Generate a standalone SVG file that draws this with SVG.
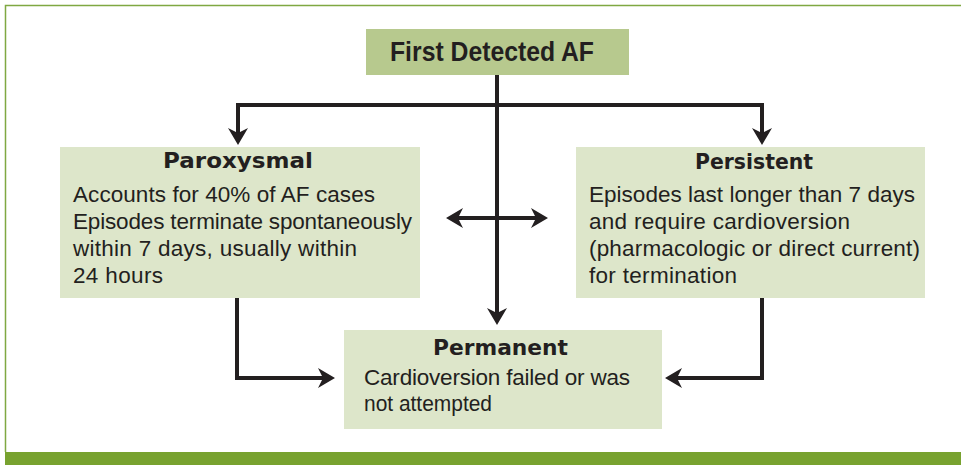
<svg xmlns="http://www.w3.org/2000/svg" width="961" height="465" viewBox="0 0 961 465">
<style>
.frame{fill:none;stroke:#7fa842;stroke-width:1.5}
.bar{fill:#78a22f}
.head{fill:#b7c98e}
.box{fill:#dde6ca}
.t{font-family:"Liberation Sans",Arial,sans-serif;font-size:22.5px;fill:#231f20}
.h{font-family:"DejaVu Sans","Liberation Sans",sans-serif;font-weight:bold;font-size:21px;fill:#231f20;text-anchor:middle}
.top{font-family:"Liberation Sans",Arial,sans-serif;font-weight:bold;font-size:27px;fill:#231f20}
.c{fill:none;stroke:#231f20;stroke-width:4}
</style>
<defs>
<marker id="ah" markerUnits="userSpaceOnUse" viewBox="-18 -11 19 22" markerWidth="19" markerHeight="22" refX="-12" refY="0" orient="auto-start-reverse">
<path d="M0,0 L-17,-10 L-12,0 L-17,10 Z" fill="#231f20"/>
</marker>
</defs>
<rect width="961" height="465" fill="#ffffff"/>
<path class="frame" d="M5.5,452 V5.5 H961"/>
<rect class="bar" x="5" y="452" width="956" height="13"/>

<g id="connectors">
<path class="c" d="M497,75 V313" marker-end="url(#ah)"/>
<path class="c" d="M238,133 V105 H762 V133" marker-start="url(#ah)" marker-end="url(#ah)"/>
<path class="c" d="M458,218 H536" marker-start="url(#ah)" marker-end="url(#ah)"/>
<path class="c" d="M237,298 V378 H323" marker-end="url(#ah)"/>
<path class="c" d="M762,298 V378 H677" marker-end="url(#ah)"/>
</g>

<g id="first-detected">
<rect class="head" x="366" y="29" width="263" height="46"/>
<text class="top" x="390" y="61" textLength="204" lengthAdjust="spacingAndGlyphs">First Detected AF</text>
</g>

<g id="paroxysmal">
<rect class="box" x="60" y="147" width="360" height="151"/>
<text class="h" x="238" y="168" textLength="150" lengthAdjust="spacingAndGlyphs">Paroxysmal</text>
<text class="t" x="73" y="202" textLength="302">Accounts for 40% of AF cases</text>
<text class="t" x="73" y="229" textLength="339">Episodes terminate spontaneously</text>
<text class="t" x="73" y="256" textLength="284">within 7 days, usually within</text>
<text class="t" x="73" y="283" textLength="90">24 hours</text>
</g>

<g id="persistent">
<rect class="box" x="576" y="147" width="349" height="151"/>
<text class="h" x="754" y="169" textLength="118" lengthAdjust="spacingAndGlyphs">Persistent</text>
<text class="t" x="589" y="202" textLength="326">Episodes last longer than 7 days</text>
<text class="t" x="589" y="229" textLength="261">and require cardioversion</text>
<text class="t" x="589" y="256" textLength="331">(pharmacologic or direct current)</text>
<text class="t" x="589" y="283" textLength="148">for termination</text>
</g>

<g id="permanent">
<rect class="box" x="344" y="330" width="318" height="99"/>
<text class="h" x="500.5" y="355" textLength="135" lengthAdjust="spacingAndGlyphs">Permanent</text>
<text class="t" x="364" y="385" textLength="266">Cardioversion failed or was</text>
<text class="t" x="364" y="411" textLength="128" lengthAdjust="spacingAndGlyphs">not attempted</text>
</g>
</svg>
